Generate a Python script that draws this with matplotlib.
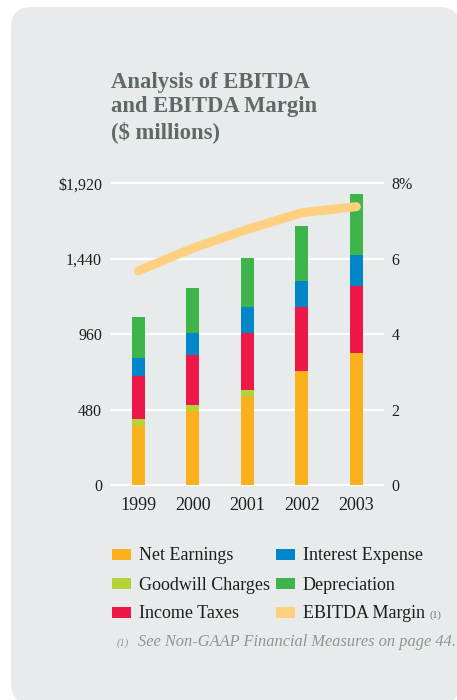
import matplotlib
matplotlib.use("Agg")
import matplotlib.pyplot as plt
from matplotlib.patches import FancyBboxPatch, Rectangle
import numpy as np

# ---- data ($ millions) ----
years = ["1999", "2000", "2001", "2002", "2003"]
net_earnings = [374, 469, 560, 723, 843]
goodwill_charges = [43, 43, 42, 0, 0]
income_taxes = [276, 317, 368, 412, 421]
interest_expense = [114, 139, 161, 163, 199]
depreciation = [265, 288, 315, 351, 389]
ebitda_margin = [5.68, 6.28, 6.78, 7.22, 7.38]  # percent

left_ticks = [0, 480, 960, 1440, 1920]
left_ticklabels = ["0", "480", "960", "1,440", "$1,920"]
right_ticks = [0, 2, 4, 6, 8]
right_ticklabels = ["0", "2", "4", "6", "8%"]

series = [
    ("Net Earnings", net_earnings, "#FBB11B"),
    ("Goodwill Charges", goodwill_charges, "#B5D334"),
    ("Income Taxes", income_taxes, "#EE1848"),
    ("Interest Expense", interest_expense, "#0086C9"),
    ("Depreciation", depreciation, "#3DB54A"),
]
margin_color = "#FFD07F"

W, H = 457, 700
SERIF = ["Liberation Serif", "DejaVu Serif"]
plt.rcParams["font.family"] = SERIF

fig = plt.figure(figsize=(W / 100, H / 100), dpi=100)
fig.patch.set_facecolor("white")


def fx(x):
    return x / W


def fy(y):
    return 1 - y / H


# background card
card = FancyBboxPatch((fx(11), fy(704)), fx(460) - fx(11), fy(7) - fy(704),
                      boxstyle="round,pad=0,rounding_size=0.045",
                      transform=fig.transFigure, facecolor="#E8EBEC",
                      edgecolor="none", zorder=-5, mutation_aspect=W / H)
fig.patches.append(card)

# title
fig.text(fx(111), fy(138), "Analysis of EBITDA\nand EBITDA Margin\n($ millions)",
         fontsize=16.3, fontweight="bold", color="#5F6965", ha="left",
         va="baseline", linespacing=1.22)

# axes
ax = fig.add_axes([fx(111.7), fy(485), fx(383) - fx(111.7), fy(183.3) - fy(485)])
ax.set_facecolor("none")
x = np.arange(len(years))
bottom = np.zeros(len(years))
for name, vals, col in series:
    v = np.array(vals, dtype=float)
    ax.bar(x, v, bottom=bottom, width=0.24, color=col, zorder=3, linewidth=0)
    bottom += v

ax.set_xlim(-0.49, 4.49)
ax.set_ylim(0, 1920)
ax.set_yticks(left_ticks)
ax.set_yticklabels(left_ticklabels)
ax.set_xticks(x)
ax.set_xticklabels(years)
for t in left_ticks:
    ax.axhline(t, color="white", lw=1.6, zorder=1, clip_on=False)
for s in ax.spines.values():
    s.set_visible(False)
ax.tick_params(axis="y", length=0, pad=7, labelsize=11.5, labelcolor="#1E1E1E")
ax.tick_params(axis="x", length=0, pad=9, labelsize=13, labelcolor="#1E1E1E")

ax2 = ax.twinx()
ax2.set_ylim(0, 8)
ax2.set_yticks(right_ticks)
ax2.set_yticklabels(right_ticklabels)
for s in ax2.spines.values():
    s.set_visible(False)
ax2.tick_params(axis="y", length=0, pad=6, labelsize=11.5, labelcolor="#1E1E1E")
ax2.plot(x, ebitda_margin, color=margin_color, lw=6.5, solid_capstyle="round",
         solid_joinstyle="round", zorder=5, clip_on=False)

# legend
legend_items = [
    (112, 554, "Net Earnings", "#FBB11B"),
    (112, 583, "Goodwill Charges", "#B5D334"),
    (112, 612, "Income Taxes", "#EE1848"),
    (276, 554, "Interest Expense", "#0086C9"),
    (276, 583, "Depreciation", "#3DB54A"),
    (276, 612, "EBITDA Margin", margin_color),
]
for lx, ly, label, col in legend_items:
    fig.patches.append(Rectangle((fx(lx), fy(ly + 6)), fx(19), fy(0) - fy(11),
                                 transform=fig.transFigure, facecolor=col,
                                 edgecolor="none"))
    fig.text(fx(lx + 27), fy(ly + 2), label, fontsize=13, color="#1E1E1E",
             ha="left", va="center")
fig.text(fx(430), fy(615), "(1)", fontsize=7.5, color="#6E6E6E", ha="left",
         va="center")

# footnote
fig.text(fx(117), fy(646), "(1)", fontsize=7.5, color="#8D9692",
         style="italic", ha="left", va="baseline")
fig.text(fx(138), fy(646), "See Non-GAAP Financial Measures on page 44.",
         fontsize=11.8, color="#8D9692", style="italic", ha="left",
         va="baseline")

fig.savefig("out.png", dpi=100, facecolor="white")
